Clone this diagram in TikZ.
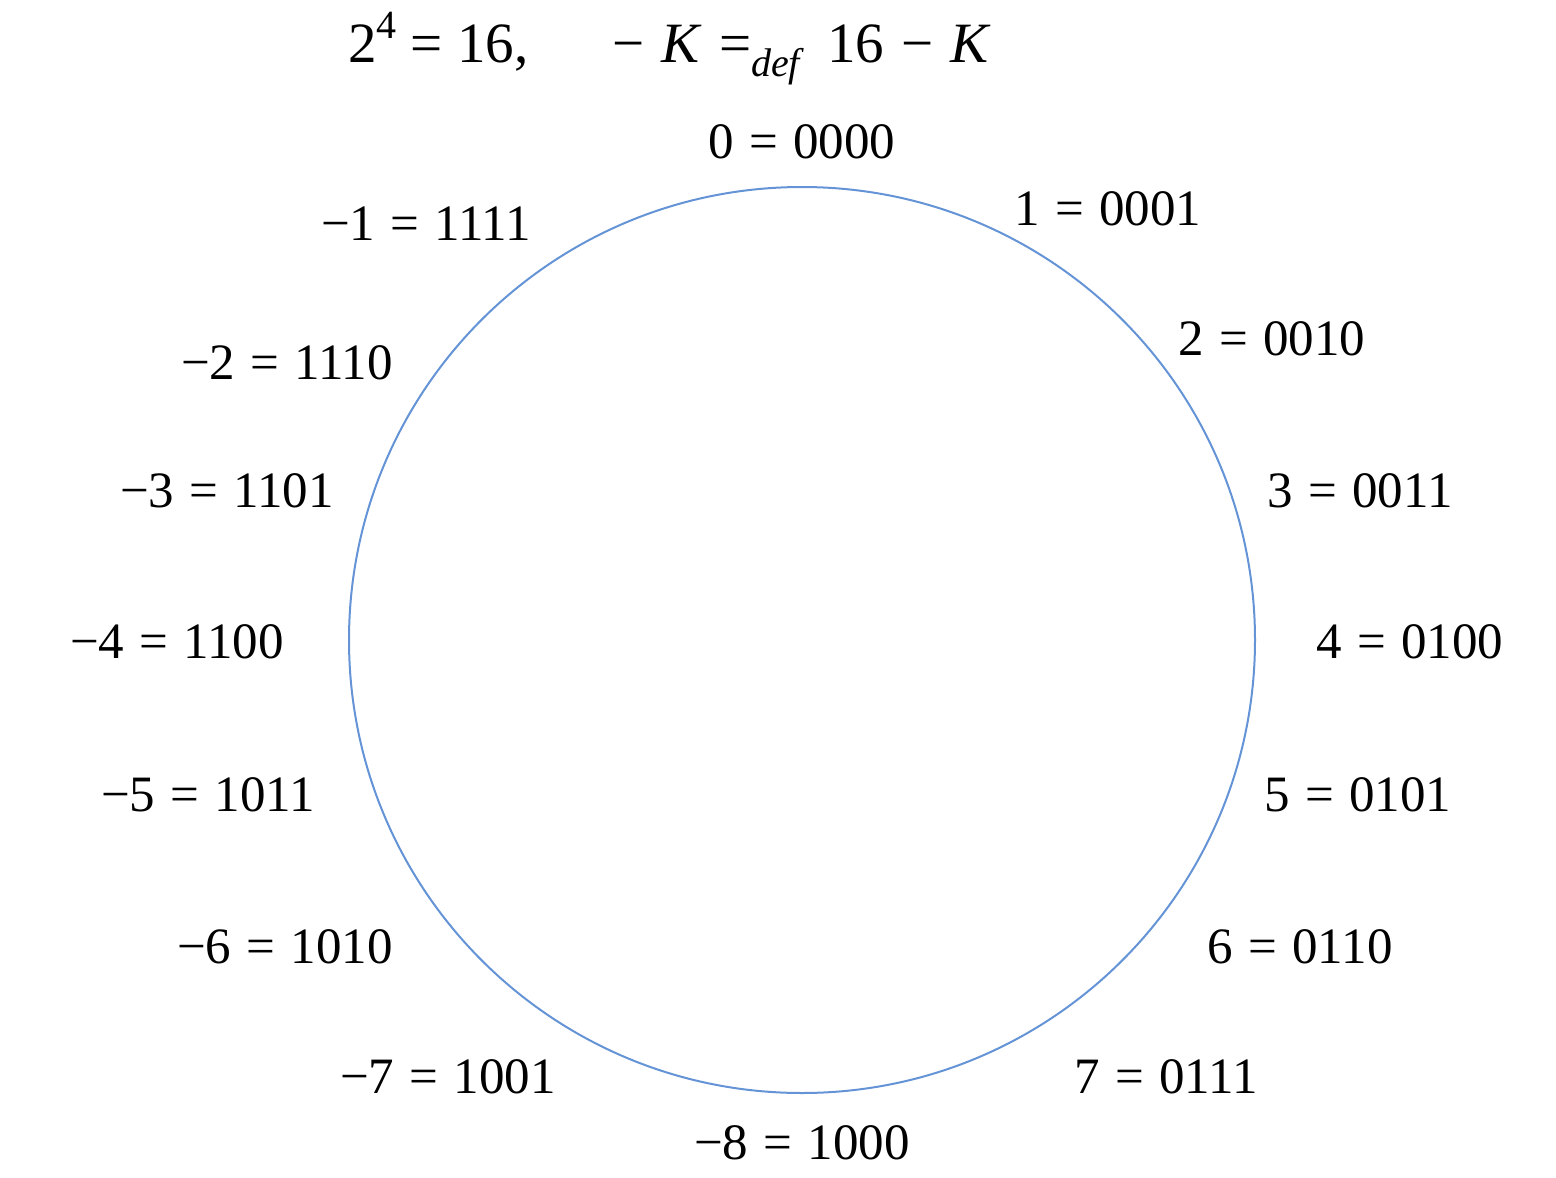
\documentclass[tikz,border=0pt]{standalone}
\usepackage{fontspec}
\setmainfont{Liberation Serif}
\definecolor{ringblue}{RGB}{100,148,214}
\newcommand{\eqs}{\hspace{0.3em}=\hspace{0.3em}}
\newcommand{\eqt}{\hspace{0.25em}=\hspace{0.25em}}
\begin{document}
\begin{tikzpicture}[x=1pt,y=-1pt,
  lbl/.style={inner sep=0pt,font=\fontsize{51}{60}\selectfont},
  ttl/.style={inner sep=0pt,anchor=base west,font=\fontsize{57}{66}\selectfont}]
\useasboundingbox (0,0) rectangle (1556,1178);
\node[ttl] (t1) at (348,62) {2\raisebox{0.42em}{\fontsize{40}{40}\selectfont 4}\eqt 16,};
\node[ttl] (t2) at (612,62) {−\hspace{0.3em}\textit{K}\hspace{0.3em}=\raisebox{-0.25em}{\fontsize{40}{40}\selectfont\textit{def}}\hspace{0.4em}16\hspace{0.3em}−\hspace{0.3em}\textit{K}};
\coordinate (c) at (802,640);
\draw[ringblue,line width=2pt] (c) circle[radius=453];
\node[lbl] (p0) at (802,142) {0\eqs 0000};
\node[lbl] (p1) at (1108,209) {1\eqs 0001};
\node[lbl] (p2) at (1272,339) {2\eqs 0010};
\node[lbl] (p3) at (1360,491) {3\eqs 0011};
\node[lbl] (p4) at (1410,642) {4\eqs 0100};
\node[lbl] (p5) at (1358,795) {5\eqs 0101};
\node[lbl] (p6) at (1300,947) {6\eqs 0110};
\node[lbl] (p7) at (1166,1077) {7\eqs 0111};
\node[lbl] (m8) at (802,1143) {−8\eqs 1000};
\node[lbl] (m7) at (448,1077) {−7\eqs 1001};
\node[lbl] (m6) at (285,947) {−6\eqs 1010};
\node[lbl] (m5) at (208,795) {−5\eqs 1011};
\node[lbl] (m4) at (177,642) {−4\eqs 1100};
\node[lbl] (m3) at (227,491) {−3\eqs 1101};
\node[lbl] (m2) at (287,363) {−2\eqs 1110};
\node[lbl] (m1) at (426,224) {−1\eqs 1111};
\end{tikzpicture}
\end{document}
